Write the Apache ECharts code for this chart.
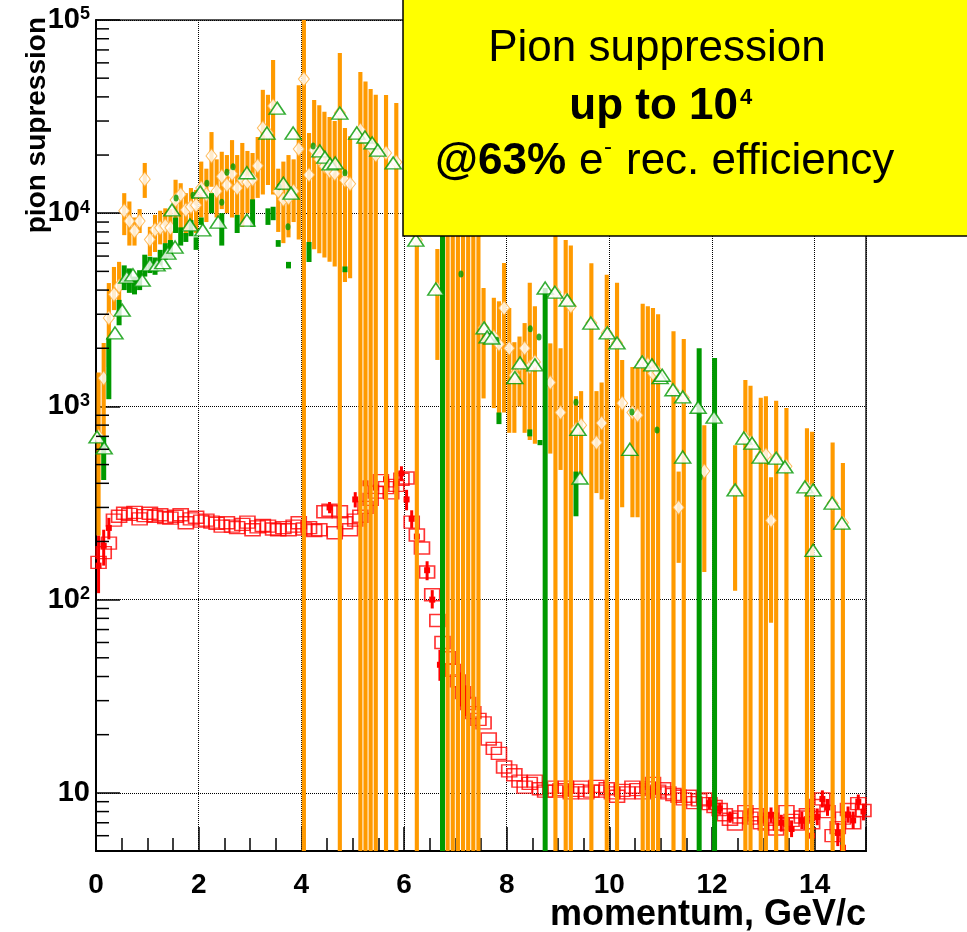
<!DOCTYPE html>
<html>
<head>
<meta charset="utf-8">
<title>Pion suppression</title>
<script src="https://cdn.jsdelivr.net/npm/echarts@6.0.0/dist/echarts.min.js"></script>
<style>
html,body{margin:0;padding:0;background:#ffffff;}
#chart{width:967px;height:932px;}
</style>
</head>
<body>
<div id="chart"></div>
<script>
// ---------- data ----------
// orange: [momentum, centre (null = hidden), low edge, high edge]
const orangeBars = [
 [0.05,700,215,1500],[0.15,1400,600,2130],[0.25,2870,1600,4350],[0.35,3800,3150,5270],[0.45,4200,3200,5600],
 [0.55,10300,7700,12700],[0.65,9100,6800,11500],[0.75,8100,6800,9500],[0.85,9100,7900,10500],[0.95,15000,12000,18200],
 [1.05,7300,6000,8500],[1.15,8200,6300,9800],[1.25,8400,6900,10300],[1.35,8600,7000,10600],[1.45,8400,7000,10500],
 [1.55,11700,8400,14900],[1.65,12500,8200,14300],[1.75,10400,7600,12700],[1.85,10800,7700,13500],[1.95,11000,7900,13200],
 [2.05,13500,9500,18500],[2.15,12500,9000,17000],[2.25,19800,13700,26300],[2.35,13000,9500,19000],[2.45,15500,10500,20800],
 [2.55,14000,10000,20000],[2.65,16000,9500,23900],[2.75,13500,9800,20000],[2.85,15000,8500,23100],[2.95,14500,10000,21000],
 [3.05,15000,11000,20500],[3.15,17600,12000,24800],[3.25,27600,12500,43500],[3.35,26000,14000,41000],[3.45,35900,12500,62000],
 [3.55,13000,8000,17000],[3.65,11800,7000,18500],[3.75,12000,7500,20000],[3.85,13000,9000,19000],[3.95,21500,7300,46000],
 [4.05,49500,1,1e6],[4.15,15800,6700,26000],[4.25,21200,6500,38500],[4.35,19000,6200,36200],[4.45,17500,5900,33500],
 [4.55,16500,5600,31500],[4.65,16000,5300,30000],[4.75,33000,1,67400],[4.85,14800,4400,27600],[4.95,14200,4600,25000],
 [5.15,26900,1,53800],[5.25,24000,1,48000],[5.35,22000,1,44000],[5.45,20000,1,41000],[5.65,20500,1,40900],
 [5.85,18400,1,37200],[6.25,7260,1,1e6],[6.65,4050,1740,6530],
 [6.85,null,1,1e6],[6.95,null,1,1e6],[7.05,null,1,1e6],[7.15,null,1,1e6],[7.25,null,1,1e6],[7.35,null,1,1e6],[7.45,null,1,1e6],
 [7.55,2550,1100,4100],[7.75,2290,980,3650],[7.85,2100,900,3500],[7.95,3230,930,5520],[8.05,2000,730,3230],
 [8.15,1450,730,2150],[8.25,1650,1000,2300],[8.35,2000,730,2700],[8.45,1600,670,4370],[8.55,1700,640,3300],
 [8.85,1330,570,2120],[8.95,3900,1,1e6],[9.05,930,469,2000],[9.15,3560,1,7260],[9.25,3300,1,6800],
 [9.35,760,425,1130],[9.45,800,440,1200],[9.65,2700,1,5500],[9.75,650,356,1200],[9.85,820,330,1330],
 [9.95,2400,1,4800],[10.15,2130,1,4370],[10.25,1040,301,1740],[10.45,930,267,1600],[10.55,900,267,1600],
 [10.65,1700,1,3400],[10.75,1650,1,3300],[10.85,1480,1,3230],[10.95,1500,1,3000],[11.25,1210,1,2450],
 [11.35,300,155,460],[11.45,1110,1,2230],[11.85,463,139,800],[12.45,369,111,630],[12.65,686,1,1370],
 [12.75,650,1,1280],[12.95,550,1,1110],[13.05,560,1,1130],[13.15,257,76,430],[13.25,540,1,1070],
 [13.45,490,1,980],[13.85,380,1,770],[13.95,368,1,740],[14.35,315,1,650],[14.55,250,1,510]
];
// green error bars: [momentum, low edge, high edge]
const greenBars = [
 [0.15,416,700],[0.25,1090,2270],[0.45,2630,3560],[0.55,4000,5370],[0.65,3870,5180],[0.75,3800,4700],
 [0.85,4000,5070],[0.95,4700,6100],[1.05,4900,5950],[1.15,4800,5900],[1.25,5370,6460],[1.35,5750,7000],
 [1.45,5880,7260],[1.55,7900,9500],[1.65,6800,8450],[1.75,7100,7900],[1.85,7600,9200],[1.95,6460,7500],
 [2.05,8700,9500],[2.25,10000,12700],[2.45,6800,10000],[2.75,7900,9800],[3.05,8500,11800],[3.35,8700,10600],
 [3.45,9200,10800],[3.55,6700,7260],[3.75,5180,5600],[4.15,5590,7100],[4.85,4950,5300],
 [6.75,1,1e6],[7.85,810,930],[8.45,700,760],[8.65,630,670],[8.75,1,4100],[9.35,270,460],
 [11.75,1,2000],[12.05,1,1780]
];
// green filled points: [momentum, value]
const greenDots = [
 [1.56,12000],[1.89,12400],[2.16,14300],[2.45,11400],[2.55,16300],[2.67,17400],[3.57,13700],[3.74,8500],
 [4.23,22300],[4.85,16200],[7.11,4840],[7.81,2200],[8.46,2520],[8.63,2290],[9.35,1050],[10.44,935],
 [10.93,755],[11.77,431]
];
// green open triangles: [momentum, value]
const greenTriangles = [
 [0.02,695],[0.16,610],[0.37,2400],[0.51,3150],[0.6,4670],[0.72,4800],[0.9,4500],[1.05,5400],[1.19,5400],
 [1.3,5550],[1.4,6220],[1.48,10400],[1.54,6680],[1.83,8700],[2.03,12900],[2.08,8200],[2.38,9000],[2.94,9200],
 [2.94,16200],[3.33,26000],[3.53,35000],[3.65,14300],[3.8,12700],[3.84,26000],[4.36,21000],[4.46,19500],
 [4.56,18000],[4.66,18200],[4.75,33000],[5.08,26000],[5.24,24800],[5.38,23100],[5.49,21200],[5.79,18200],
 [6.23,7260],[6.62,4050],[7.56,2550],[7.62,2290],[7.71,2260],[8.16,1410],[8.26,1680],[8.55,1640],[8.75,4100],
 [8.94,3900],[9.18,3550],[9.39,760],[9.43,426],[9.64,2700],[9.96,2400],[10.15,2130],[10.4,600],[10.64,1700],
 [10.83,1640],[10.99,1410],[11.03,1450],[11.24,1220],[11.43,1120],[11.43,547],[11.73,990],[12.04,880],
 [12.45,370],[12.62,686],[12.78,645],[12.94,547],[13.25,540],[13.42,486],[13.81,383],[13.97,370],
 [13.97,180],[14.34,316],[14.53,249]
];
// red open squares: [momentum, value]
const redSquares = [
 [0.05,156],[0.15,175],[0.25,196],[0.35,258],[0.45,270],[0.55,280],[0.65,276],[0.75,283],[0.85,262],[0.95,272],
 [1.05,280],[1.15,270],[1.25,275],[1.35,266],[1.45,264],[1.55,270],[1.65,275],[1.75,250],[1.85,262],[1.95,267],
 [2.05,255],[2.15,258],[2.25,252],[2.35,248],[2.45,240],[2.55,250],[2.65,240],[2.75,236],[2.85,245],[2.95,252],
 [3.05,230],[3.15,238],[3.25,242],[3.35,240],[3.45,232],[3.55,230],[3.65,236],[3.75,230],[3.85,240],[3.95,250],
 [4.05,232],[4.15,236],[4.25,228],[4.35,230],[4.45,285],[4.55,290],[4.65,222],[4.75,285],[4.85,250],[4.95,230],
 [5.05,258],[5.15,270],[5.25,300],[5.35,330],[5.45,360],[5.55,413],[5.65,380],[5.75,357],[5.85,390],[5.95,420],
 [6.05,426],[6.15,252],[6.25,216],[6.35,185],[6.45,139],[6.55,106],[6.65,78],[6.75,60],[6.85,50],[6.95,43],
 [7.05,38],[7.15,33],[7.25,29],[7.35,26],[7.45,24],[7.55,23],[7.65,19],[7.75,17],[7.85,16],[7.95,13.6],
 [8.05,13],[8.15,12.4],[8.25,11.5],[8.35,10.7],[8.45,11.2],[8.55,11.5],[8.65,10.5],[8.75,10.2],[8.85,10.7],[8.95,10.2],
 [9.05,10.4],[9.15,10.7],[9.25,10.0],[9.35,10.3],[9.45,10.7],[9.55,10.0],[9.65,10.2],[9.75,10.8],[9.85,10.2],[9.95,10.5],
 [10.05,10.0],[10.15,9.6],[10.25,10.3],[10.35,10.0],[10.45,10.7],[10.55,10.4],[10.65,10.0],[10.75,10.6],[10.85,11.2],[10.95,10.2],
 [11.05,10.5],[11.15,10.0],[11.25,9.8],[11.35,9.6],[11.45,9.3],[11.55,9.6],[11.65,8.9],[11.75,9.2],[11.85,9.3],[11.95,8.8],
 [12.05,8.5],[12.15,8.2],[12.25,7.7],[12.35,7.3],[12.45,6.9],[12.55,7.5],[12.65,8.0],[12.75,7.4],[12.85,7.7],[12.95,7.0],
 [13.05,6.9],[13.15,7.3],[13.25,6.5],[13.35,6.9],[13.45,8.0],[13.55,7.2],[13.65,6.9],[13.75,7.5],[13.85,7.7],[13.95,7.0],
 [14.05,8.6],[14.15,9.3],[14.25,8.0],[14.35,6.0],[14.45,6.6],[14.55,7.4],[14.65,8.2],[14.75,7.0],[14.85,8.8],[14.95,8.1]
];
// red filled points with error bars: [momentum, centre, low, high]
const redBars = [
 [0.05,150,108,215],[0.15,190,150,230],[0.25,235,205,265],[4.55,300,280,320],[5.05,330,300,360],
 [5.25,400,360,440],[5.45,380,340,420],[5.65,420,380,460],[5.85,400,350,450],[5.95,450,410,490],
 [6.05,330,290,370],[6.15,262,235,290],[6.25,212,190,235],[6.45,142,126,158],[6.55,100,90,112],
 [6.7,46,38,55],[7.1,35,28,42],[7.2,30,25,36],[11.95,8.8,8.2,9.5],[12.15,8.3,7.7,8.9],
 [12.35,7.5,7.0,8.0],[12.75,8.0,7.3,8.7],[12.95,7.2,6.5,8.0],[13.15,7.7,7.0,8.4],[13.35,7.0,6.3,7.7],
 [13.55,6.5,5.9,7.2],[13.75,7.2,6.5,8.0],[13.95,6.0,5.4,6.6],[14.05,7.5,6.8,8.3],[14.15,9.3,8.4,10.3],
 [14.25,8.4,7.6,9.3],[14.45,6.2,5.3,7.0],[14.55,5.2,4.0,6.0],[14.65,7.7,7.0,8.5],[14.75,7.2,6.5,8.0],
 [14.85,9.0,8.2,9.8],[14.95,8.0,7.2,8.8]
];
// axis ticks and labels
const xTickLabels = ['0','2','4','6','8','10','12','14'];
const yTickLabels = [[10,'{b|10}'],[100,'{b|10}{s|2}'],[1000,'{b|10}{s|3}'],[10000,'{b|10}{s|4}'],[100000,'{b|10}{s|5}']];
const yMinorTicks = [6,7,8,9,20,30,40,50,60,70,80,90,200,300,400,500,600,700,800,900,
  2000,3000,4000,5000,6000,7000,8000,9000,20000,30000,40000,50000,60000,70000,80000,90000];

// ---------- drawing ----------
const FONT = '"Liberation Sans", Arial, Helvetica, sans-serif';
const ORANGE = '#ff9a00', GREEN = '#009900', RED = '#ff0000';

function barRender(color, fixedWidth) {
  return function (params, api) {
    const x = api.value(0), lo = api.value(1), hi = api.value(2);
    const cs = params.coordSys;
    const a = api.coord([x, lo]), b = api.coord([x, hi]);
    const top = Math.max(Math.min(a[1], b[1]), cs.y);
    const bot = Math.min(Math.max(a[1], b[1]), cs.y + cs.height);
    if (!(bot > top)) return null;
    let w = fixedWidth;
    if (w == null) w = api.coord([x + 0.05, lo])[0] - api.coord([x - 0.05, lo])[0] - 1;
    return {type: 'rect', shape: {x: a[0] - w / 2, y: top, width: w, height: bot - top}, style: {fill: color}};
  };
}
function redFilledRender(params, api) {
  const x = api.value(0), m = api.value(1), lo = api.value(2), hi = api.value(3);
  const cs = params.coordSys;
  const pm = api.coord([x, m]), pl = api.coord([x, lo]), ph = api.coord([x, hi]);
  const top = Math.max(ph[1], cs.y), bot = Math.min(pl[1], cs.y + cs.height);
  return {type: 'group', children: [
    {type: 'rect', shape: {x: pm[0] - 1.5, y: top, width: 3, height: Math.max(0, bot - top)}, style: {fill: RED}},
    {type: 'rect', shape: {x: pm[0] - 3, y: pm[1] - 3, width: 6, height: 6}, style: {fill: RED}}]};
}
function yMinorTickRender(params, api) {
  const p = api.coord([0, api.value(1)]);
  return {type: 'rect', shape: {x: p[0], y: p[1] - 0.75, width: 13, height: 1.5}, style: {fill: '#000'}};
}
function txt(x, y, text, font, align) {
  return {type: 'text', z: 101, x: x, y: y,
    style: {text: text, font: font, fill: '#000', textAlign: align, textVerticalAlign: 'middle',
            align: align, verticalAlign: 'middle'}};
}

const tickStyle = {color: '#000', width: 1.5};
const chart = echarts.init(document.getElementById('chart'));
chart.setOption({
  animation: false, backgroundColor: '#ffffff',
  grid: {left: 96, top: 20, width: 770, height: 831, show: true, borderColor: '#222', borderWidth: 1.5,
         backgroundColor: 'transparent', outerBoundsMode: 'none', containLabel: false},
  xAxis: [
    {type: 'value', min: 0, max: 15, interval: 2, position: 'bottom',
     name: 'momentum, GeV/c', nameLocation: 'end', nameGap: 0, nameMoveOverlap: false,
     nameTextStyle: {fontFamily: FONT, fontSize: 36, fontWeight: 'bold', color: '#000', align: 'right',
       verticalAlign: 'top', padding: [46, 0, 0, 0]},
     axisLine: {show: true, lineStyle: {color: '#000', width: 2}},
     axisTick: {show: true, inside: true, length: 24, lineStyle: tickStyle},
     axisLabel: {show: true, color: '#000', fontFamily: FONT, fontWeight: 'bold', fontSize: 28, margin: 20,
       formatter: v => xTickLabels.indexOf(String(v)) >= 0 ? String(v) : ''},
     splitLine: {show: true, lineStyle: {color: '#000', type: 'dotted', width: 1}}},
    {type: 'value', min: 0, max: 15, interval: 0.5, position: 'bottom',
     axisLine: {show: true, lineStyle: {color: '#000', width: 2}},
     axisTick: {show: true, inside: true, length: 13, lineStyle: tickStyle},
     axisLabel: {show: false}, splitLine: {show: false}}
  ],
  yAxis: {type: 'log', logBase: 10, min: 5, max: 100000,
    name: 'pion supression', nameLocation: 'end', nameGap: 3, nameRotate: 90, nameMoveOverlap: false,
    nameTextStyle: {fontFamily: FONT, fontSize: 28, fontWeight: 'bold', color: '#000', align: 'right',
      verticalAlign: 'bottom', lineHeight: 28, padding: [0, 0, 45, 0]},
    axisLine: {show: true, lineStyle: {color: '#000', width: 2}},
    axisTick: {show: true, inside: true, length: 24, lineStyle: tickStyle},
    axisLabel: {show: true, margin: 6, color: '#000',
      formatter: function (v) { for (const t of yTickLabels) { if (Math.abs(v - t[0]) < 1e-6 * t[0]) return t[1]; } return ''; },
      rich: {b: {fontFamily: FONT, fontWeight: 'bold', fontSize: 29, color: '#000', lineHeight: 29},
             s: {fontFamily: FONT, fontWeight: 'bold', fontSize: 18, color: '#000', lineHeight: 14, verticalAlign: 'top'}}},
    splitLine: {show: true, lineStyle: {color: '#000', type: 'dotted', width: 1}}},
  series: [
    {type: 'scatter', z: 1, silent: true, symbol: 'rect', symbolSize: [15, 12],
     itemStyle: {color: 'rgba(255,0,0,0)', borderColor: RED, borderWidth: 1.5}, data: redSquares},
    {type: 'custom', z: 2, silent: true, renderItem: redFilledRender, encode: {x: 0, y: [1, 2, 3]}, data: redBars},
    {type: 'custom', z: 3, silent: true, renderItem: barRender(ORANGE), encode: {x: 0, y: [1, 2]},
     data: orangeBars.map(d => [d[0], d[2], d[3]])},
    {type: 'scatter', z: 4, silent: true, symbol: 'diamond', symbolSize: [11, 14],
     itemStyle: {color: '#ffffff', borderColor: '#ffae3a', borderWidth: 1},
     data: orangeBars.filter(d => d[1] != null).map(d => [d[0], d[1]])},
    {type: 'custom', z: 5, silent: true, renderItem: barRender(GREEN, 5), encode: {x: 0, y: [1, 2]}, data: greenBars},
    {type: 'scatter', z: 6, silent: true, symbol: 'circle', symbolSize: [5, 7], itemStyle: {color: GREEN}, data: greenDots},
    {type: 'scatter', z: 7, silent: true, symbol: 'triangle', symbolSize: [16, 12],
     itemStyle: {color: '#ffffff', borderColor: GREEN, borderWidth: 1.5}, data: greenTriangles},
    {type: 'custom', z: 8, silent: true, clip: false, renderItem: yMinorTickRender, encode: {x: 0, y: 1},
     data: yMinorTicks.map(v => [0, v])}
  ],
  graphic: [
    {type: 'rect', z: 100, shape: {x: 403, y: -2, width: 570, height: 238},
     style: {fill: '#ffff00', stroke: '#000', lineWidth: 1.5}},
    txt(657, 49, 'Pion suppression', '44px ' + FONT, 'center'),
    txt(738, 107, 'up to 10', 'bold 44px ' + FONT, 'right'),
    txt(740, 98, '4', 'bold 22px ' + FONT, 'left'),
    txt(566, 162, '@63%', 'bold 44px ' + FONT, 'right'),
    txt(579, 162, 'e', '44px ' + FONT, 'left'),
    txt(604, 147, '-', '24px ' + FONT, 'left'),
    txt(626, 162, 'rec. efficiency', '44px ' + FONT, 'left')
  ]
});
chart.getZr().refreshImmediately();
// make sure every pass (including the tick layer) is painted before the page settles
setTimeout(function () {
  chart.resize();
  chart.getZr().refreshImmediately();
  document.body.setAttribute('data-ready', '1');
}, 120);
</script>
</body>
</html>
